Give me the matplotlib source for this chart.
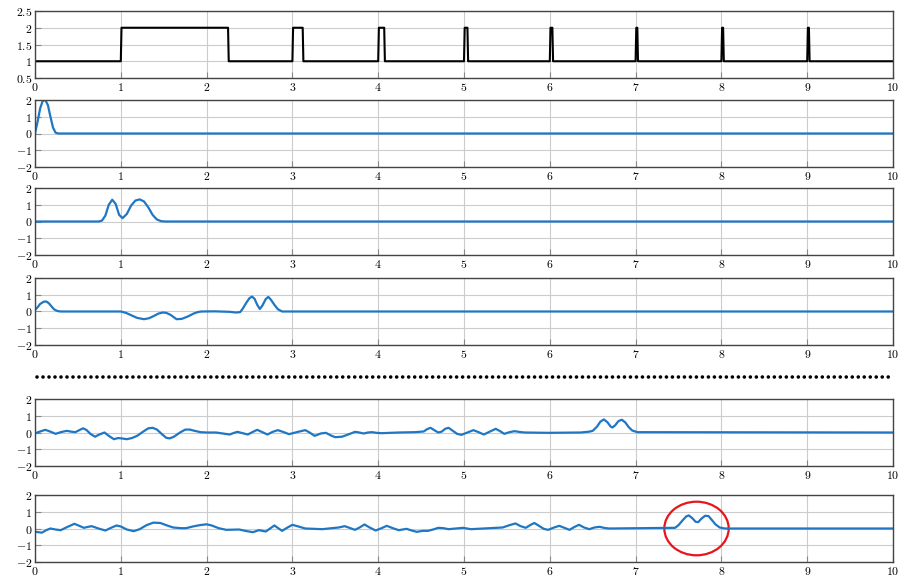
import matplotlib
matplotlib.use("Agg")
import matplotlib.pyplot as plt
from matplotlib.lines import Line2D
from matplotlib.patches import Ellipse
from matplotlib.ticker import FuncFormatter

plt.rcParams['mathtext.fontset'] = 'cm'

# --- data ---
# top panel: square pulses (start, end) with level 1 -> 2
pulse_start = [1.0, 3.0, 4.0, 5.0, 6.0, 7.0, 8.0, 9.0]
pulse_end = [2.25, 3.12, 4.07, 5.04, 6.03, 7.02, 8.02, 9.02]
base_level = 1.0
high_level = 2.0

p2_x = [0, 0.03, 0.06, 0.09, 0.12, 0.15, 0.18, 0.21, 0.24, 0.27, 10]
p2_y = [0, 0.7, 1.5, 1.95, 2.0, 1.7, 1.0, 0.35, 0.05, 0, 0]

p3_x = [0, 0.74, 0.78, 0.82, 0.86, 0.9, 0.94, 0.98, 1.02, 1.07, 1.12, 1.17,
        1.22, 1.27, 1.32, 1.37, 1.42, 1.47, 1.52, 10]
p3_y = [0, 0, 0.05, 0.35, 1.0, 1.3, 1.05, 0.4, 0.2, 0.45, 0.95, 1.25,
        1.32, 1.2, 0.85, 0.4, 0.12, 0.02, 0, 0]

p4_x = [0, 0.03, 0.06, 0.1, 0.13, 0.16, 0.19, 0.22, 0.25, 0.28, 0.31,
        1.0, 1.06, 1.12, 1.19, 1.27, 1.33, 1.38, 1.44, 1.49, 1.53, 1.58,
        1.65, 1.71, 1.78, 1.85, 1.9, 1.94, 2.1, 2.27, 2.34, 2.39, 2.42,
        2.46, 2.5, 2.53, 2.56, 2.59, 2.62, 2.65, 2.69, 2.72, 2.75, 2.79,
        2.83, 2.88, 10]
p4_y = [0.1, 0.25, 0.45, 0.58, 0.6, 0.5, 0.32, 0.14, 0.05, 0.01, 0,
        0, -0.08, -0.22, -0.38, -0.46, -0.4, -0.28, -0.12, -0.06, -0.08,
        -0.2, -0.46, -0.44, -0.3, -0.12, -0.03, 0, 0.01, -0.02, -0.06,
        -0.04, 0.16, 0.5, 0.8, 0.89, 0.75, 0.4, 0.15, 0.35, 0.75, 0.87,
        0.7, 0.4, 0.14, 0.0, 0]

p5_x = [0, 0.06, 0.12, 0.18, 0.24, 0.3, 0.37, 0.42, 0.47, 0.52, 0.56, 0.6,
        0.65, 0.7, 0.75, 0.81, 0.86, 0.92, 0.97, 1.02, 1.07, 1.13, 1.19,
        1.26, 1.32, 1.37, 1.42, 1.48, 1.53, 1.57, 1.62, 1.69, 1.75, 1.8,
        1.86, 1.93, 2.0, 2.11, 2.19, 2.27, 2.32, 2.36, 2.42, 2.48, 2.54,
        2.59, 2.65, 2.71, 2.77, 2.83, 2.9, 2.96, 3.05, 3.15, 3.2, 3.26,
        3.33, 3.39, 3.45, 3.5, 3.58, 3.66, 3.73, 3.78, 3.83, 3.88, 3.93,
        3.98, 4.04, 4.24, 4.43, 4.53, 4.57, 4.61, 4.66, 4.7, 4.74, 4.78,
        4.82, 4.87, 4.92, 4.97, 5.04, 5.11, 5.17, 5.23, 5.3, 5.37, 5.42,
        5.47, 5.53, 5.59, 5.65, 5.71, 5.98, 6.36, 6.46, 6.5, 6.55, 6.59,
        6.63, 6.67, 6.71, 6.73, 6.76, 6.8, 6.84, 6.88, 6.92, 6.96, 7.02,
        10]
p5_y = [-0.05, 0.06, 0.16, 0.05, -0.08, 0.02, 0.1, 0.05, 0.02, 0.15, 0.25,
        0.15, -0.1, -0.25, -0.12, 0.0, -0.2, -0.4, -0.33, -0.36, -0.4,
        -0.33, -0.2, 0.05, 0.25, 0.28, 0.18, -0.1, -0.32, -0.35, -0.25,
        0.0, 0.17, 0.18, 0.1, 0.02, 0.0, 0.0, -0.06, -0.12, -0.02, 0.04,
        -0.04, -0.12, 0.04, 0.16, 0.02, -0.12, 0.04, 0.14, 0.02, -0.1,
        0.02, 0.14, 0.0, -0.2, -0.06, -0.02, -0.18, -0.28, -0.25, -0.1,
        0.04, 0.0, -0.06, 0.0, 0.02, -0.02, -0.04, 0.0, 0.02, 0.06, 0.2,
        0.28, 0.12, 0.0, 0.05, 0.22, 0.28, 0.1, -0.08, -0.14, 0.0, 0.14,
        0.02, -0.12, 0.05, 0.22, 0.08, -0.08, 0.02, 0.08, 0.03, 0.0, -0.02,
        0.0, 0.05, 0.1, 0.35, 0.65, 0.78, 0.62, 0.35, 0.3, 0.42, 0.68,
        0.76, 0.6, 0.32, 0.12, 0.02, 0]

p6_x = [0, 0.04, 0.08, 0.13, 0.18, 0.24, 0.3, 0.38, 0.46, 0.52, 0.57, 0.62,
        0.66, 0.74, 0.82, 0.89, 0.95, 1.0, 1.07, 1.15, 1.22, 1.3, 1.38,
        1.46, 1.54, 1.61, 1.7, 1.76, 1.84, 1.92, 2.0, 2.06, 2.14, 2.23,
        2.38, 2.46, 2.54, 2.61, 2.69, 2.74, 2.79, 2.84, 2.88, 2.94, 3.0,
        3.07, 3.15, 3.25, 3.35, 3.46, 3.54, 3.61, 3.67, 3.73, 3.79, 3.84,
        3.9, 3.97, 4.04, 4.1, 4.17, 4.24, 4.33, 4.39, 4.45, 4.52, 4.58,
        4.64, 4.7, 4.76, 4.82, 4.99, 5.08, 5.45, 5.53, 5.6, 5.66, 5.72,
        5.77, 5.82, 5.88, 5.93, 5.98, 6.05, 6.11, 6.17, 6.23, 6.29, 6.34,
        6.4, 6.46, 6.52, 6.58, 6.64, 6.69, 7.46, 7.5, 7.55, 7.59, 7.62,
        7.66, 7.7, 7.73, 7.77, 7.81, 7.85, 7.89, 7.93, 7.98, 8.04, 10]
p6_y = [-0.2, -0.22, -0.25, -0.1, 0.0, -0.06, -0.1, 0.1, 0.28, 0.15, 0.04,
        0.1, 0.14, 0.0, -0.12, 0.05, 0.18, 0.12, -0.06, -0.16, -0.04, 0.2,
        0.35, 0.33, 0.18, 0.06, 0.02, 0.02, 0.12, 0.2, 0.25, 0.18, 0.02,
        -0.08, -0.06, -0.15, -0.22, -0.1, -0.18, 0.0, 0.18, 0.0, -0.14,
        0.05, 0.22, 0.12, 0.0, -0.02, -0.04, 0.02, 0.06, 0.14, 0.03, -0.08,
        0.08, 0.24, 0.06, -0.12, 0.02, 0.16, 0.02, -0.1, -0.02, -0.12, -0.2,
        -0.14, -0.14, -0.06, 0.04, 0.02, -0.04, 0.04, -0.04, 0.06, 0.2, 0.3,
        0.14, 0.04, 0.2, 0.33, 0.14, -0.02, -0.08, 0.06, 0.16, 0.04, -0.08,
        0.1, 0.22, 0.06, -0.04, 0.06, 0.1, 0.03, 0.0, 0.04, 0.2, 0.5, 0.72,
        0.78, 0.62, 0.4, 0.38, 0.6, 0.76, 0.74, 0.5, 0.25, 0.06, 0.0, 0]

# build the step signal for the top panel
sq_x = [0]
sq_y = [base_level]
for a, b in zip(pulse_start, pulse_end):
    sq_x += [a, a + 0.008, b, b + 0.008]
    sq_y += [base_level, high_level, high_level, base_level]
sq_x.append(10)
sq_y.append(base_level)

blue = '#1f77c4'
left, width = 35 / 905, 858 / 905
tops = [11, 100, 188, 278, 399, 495]
h = 67
fmt = FuncFormatter(lambda v, pos: r'$%g$' % v)

fig = plt.figure(figsize=(9.05, 5.77), dpi=100)
series = [(sq_x, sq_y), (p2_x, p2_y), (p3_x, p3_y), (p4_x, p4_y),
          (p5_x, p5_y), (p6_x, p6_y)]
axes = []
for i, (xs, ys) in enumerate(series):
    ax = fig.add_axes([left, 1 - (tops[i] + h) / 577, width, h / 577])
    if i == 0:
        ax.plot(xs, ys, color='black', lw=1.5)
        ax.set_ylim(0.5, 2.5)
        ax.set_yticks([0.5, 1, 1.5, 2, 2.5])
    else:
        ax.plot(xs, ys, color=blue, lw=1.6)
        ax.set_ylim(-2, 2)
        ax.set_yticks([-2, -1, 0, 1, 2])
    ax.set_xlim(0, 10)
    ax.set_xticks(range(11))
    ax.xaxis.set_major_formatter(fmt)
    ax.yaxis.set_major_formatter(fmt)
    ax.grid(True, color='#cccccc', lw=0.8)
    ax.set_axisbelow(True)
    ax.tick_params(direction='in', length=4, color='#888888',
                   labelsize=8.5, pad=2)
    for s in ax.spines.values():
        s.set_color('#444444')
        s.set_linewidth(1.0)
    axes.append(ax)

# dotted separator
fig.add_artist(Line2D([37 / 905, 893 / 905], [1 - 377 / 577, 1 - 377 / 577],
                      transform=fig.transFigure, color='black', lw=2.6,
                      linestyle=(0, (0.01, 1.65)), dash_capstyle='round'))

# red circle on the last panel
axes[-1].add_patch(Ellipse((7.71, 0.0), 0.75, 3.2, fill=False,
                           edgecolor='#e8141b', lw=1.6, clip_on=False))

fig.savefig('out.png', dpi=100)
